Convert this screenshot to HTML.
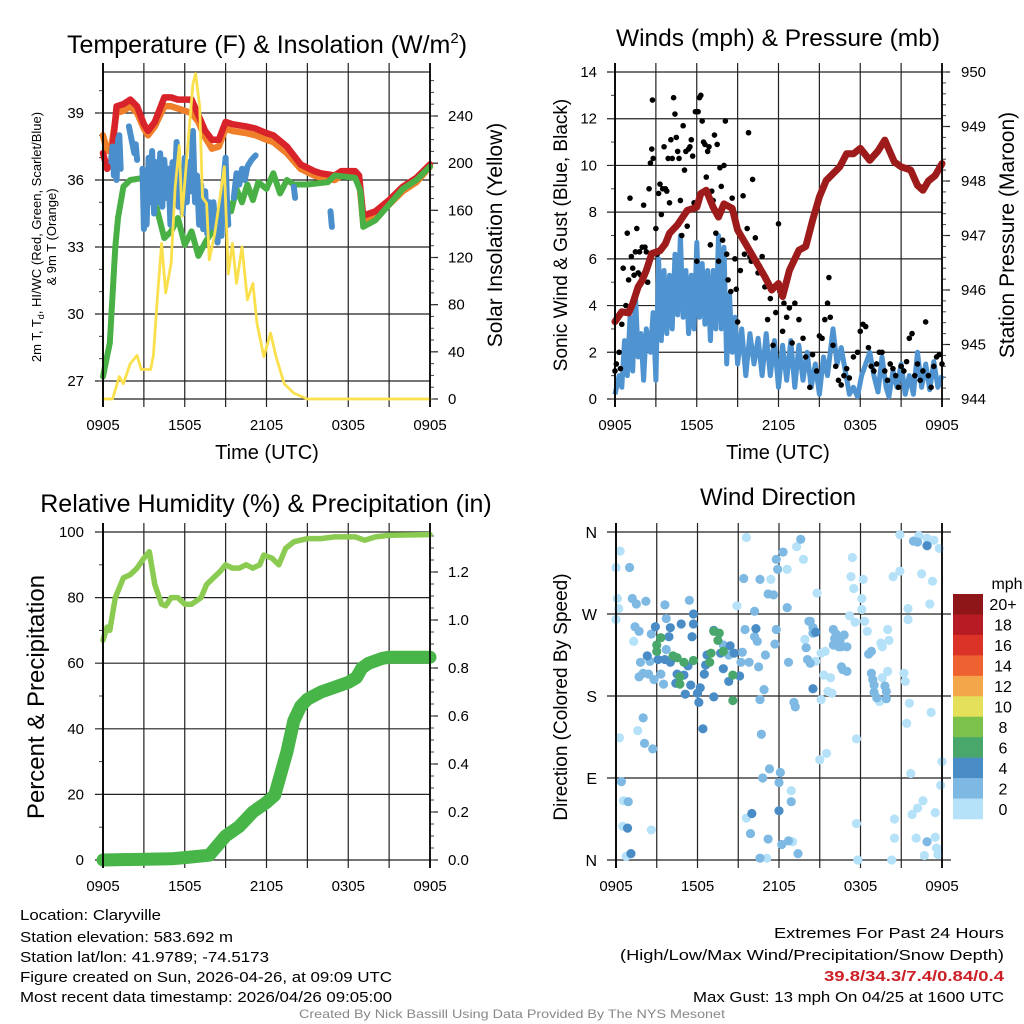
<!DOCTYPE html>
<html><head><meta charset="utf-8"><style>
html,body{margin:0;padding:0;background:#fff;}
svg{display:block;font-family:"Liberation Sans",Arial,sans-serif;}
</style></head><body>
<svg id="c" width="1024" height="1024" viewBox="0 0 1024 1024" xmlns="http://www.w3.org/2000/svg"></svg>
<script>
// ===== Panel 1: temperature (hours since 0905, value) =====
const redHours=[0,0.3,0.6,1,1.5,2,2.5,3,3.3,3.8,4.5,5,5.5,6,6.5,7,7.5,8,8.5,9,9.5,10.5,11.2,12,12.5,13.5,14.5,15.5,16,17,17.5,18.5,18.8,19.1,20,21,22,23,24];
const redTemp=[37.2,36.5,36.8,39.3,39.4,39.6,39.3,38.5,38.2,38.6,39.7,39.7,39.6,39.6,39.6,38.9,38.2,37.8,37.8,38.6,38.5,38.4,38.3,38.1,38.0,37.5,36.7,36.4,36.3,36.2,36.4,36.4,36.2,34.4,34.6,35.1,35.7,36.1,36.7];
const orangeHours=[0,0.3,0.6,1,1.5,2,2.5,3,3.3,3.8,4.5,5,5.5,6,6.5,7,7.5,8,8.5,9,9.5,10.5,11.2,12,12.5,13.5,14.5,15.5,16,17,17.5,18.5,18.8,19.1,20,21,22,23,24];
const orangeTemp=[38.0,37.3,37.5,39.0,39.1,39.3,39.0,38.3,38.0,38.4,39.3,39.3,39.2,39.1,39.0,38.6,37.9,37.4,37.5,38.3,38.2,38.1,38.0,37.8,37.7,37.2,36.5,36.2,36.1,36.0,36.2,36.2,36.0,34.1,34.4,34.9,35.5,35.9,36.6];
const greenHours=[0,0.5,0.9,1.1,1.5,2,3,3.2,4,4.5,5,5.5,6,6.5,7,7.5,8,8.5,9,9.4,9.8,10.2,10.6,11,11.4,12,12.5,13,13.5,14,15,16.5,17,18.5,18.9,19.1,20,21,22,23,24];
const greenTemp=[27.2,28.7,33.0,34.3,35.7,36.0,36.1,36.4,34.6,33.4,33.7,34.3,33.1,33.7,32.6,33.2,33.7,34.2,35.2,34.6,35.6,35.0,35.8,35.1,35.9,35.6,36.3,35.4,36.0,35.8,35.8,35.9,36.2,36.1,35.5,33.9,34.2,34.9,35.6,36.0,36.6];
const blueHours=[0.6,0.7,0.8,0.9,1.0,1.1,1.2,1.3,null,1.9,2.1,2.3,2.4,2.5,null,2.9,3.0,3.1,3.2,3.35,3.5,3.6,3.75,3.9,4.05,4.2,4.35,4.5,4.65,4.8,4.95,5.1,5.25,5.4,5.55,5.7,5.85,6.0,6.15,6.3,6.45,6.6,6.75,6.9,7.05,7.2,7.35,7.5,7.65,7.8,7.95,8.1,8.25,8.4,8.55,8.7,8.85,9.0,9.1,9.2,null,9.6,9.8,10.0,10.2,10.4,10.6,10.9,11.2,null,14.0,14.1,null,16.7,16.8];
const blueTemp=[36.8,37.5,36.2,37.3,36.0,37.8,38.0,36.5,null,38.4,37.8,37.2,37.6,36.9,null,36.5,33.8,35.5,34.0,37.0,35.0,37.3,34.5,36.8,35.0,37.2,34.8,36.9,35.2,36.5,34.0,36.8,35.5,37.7,34.8,36.5,34.5,37.0,35.0,36.8,35.5,38.2,35.0,36.2,34.0,35.8,33.8,35.5,33.6,35.0,33.9,35.0,34.0,33.2,34.2,33.5,36.0,37.0,35.0,34.0,null,35.2,36.3,35.8,36.5,36.0,36.6,36.9,37.1,null,35.7,35.2,null,34.6,33.9];
const solarHours=[0,0.7,1.2,1.5,2,2.5,2.8,3.5,3.7,4,4.3,4.6,5,5.3,5.6,5.8,6.3,6.6,6.8,7.1,7.3,7.6,7.8,8.2,8.7,8.9,9.2,9.5,9.8,10.2,10.6,11,11.3,11.8,12.3,12.7,13.3,14,15,24];
const solarWm2=[0,0,19,13,30,37,25,25,37,87,132,90,115,180,215,155,225,267,276,248,171,166,118,140,180,197,106,132,98,129,84,98,64,36,56,36,13,5,0,0];
const tempTicks=[27,30,33,36,39];
const solarTicks=[0,40,80,120,160,200,240];
const timeLabels=["0905","1505","2105","0305","0905"];
// ===== Panel 2: winds & pressure =====
const windHours=[0,0.3,0.5,0.7,0.9,1.1,1.3,1.5,1.7,1.9,2.1,2.3,2.6,2.8,3.0,3.2,3.4,3.6,3.8,4.0,4.2,4.4,4.6,4.8,5.0,5.2,5.4,5.6,5.8,6.0,6.2,6.4,6.6,6.8,7.0,7.2,7.4,7.6,7.8,8.0,8.2,8.4,8.6,8.8,9.0,9.3,9.6,9.9,10.2,10.5,10.8,11.1,11.4,11.7,12.0,12.3,12.6,12.9,13.2,13.5,13.8,14.1,14.4,14.7,15.0,15.3,15.6,16.0,16.3,16.6,16.9,17.2,17.5,17.8,18.1,18.4,18.7,19.0,19.3,19.6,19.9,20.1,20.4,20.7,21.0,21.3,21.6,21.9,22.2,22.5,22.8,23.1,23.4,23.7,24];
const windMph=[0.2,1.0,0.5,2.5,1.0,3.5,1.2,4.5,1.8,2.8,0.8,3.0,2.0,3.7,0.8,6.0,2.5,5.5,2.8,5.3,3.0,6.2,3.6,7.0,3.5,5.5,2.8,5.3,3.0,6.7,3.5,5.8,3.2,5.5,2.5,5.5,3.0,7.0,3.0,6.5,1.5,4.5,2.0,3.5,1.5,3.0,1.0,2.8,1.5,2.6,1.0,2.8,1.0,2.5,0.5,2.3,0.8,2.5,0.5,2.3,0.8,2.0,0.5,1.5,0.2,1.8,1.0,3.0,1.5,2.2,1.2,0.2,0.5,0.1,1.0,1.5,2.0,1.0,0.3,1.8,0.5,0.1,1.2,0.5,1.5,0.2,1.0,0.2,2.0,0.5,1.5,0.4,1.6,0.5,1.0];
const gustHours=[0,0.1,0.3,0.4,0.5,0.6,0.8,0.9,1.0,1.1,1.2,1.3,1.4,1.5,1.6,1.7,1.8,1.9,2.0,2.1,2.2,2.3,2.4,2.5,2.6,2.7,2.75,2.8,3.0,3.1,3.2,3.3,3.4,3.5,3.6,3.7,3.8,3.9,4.0,4.1,4.2,4.3,4.4,4.5,4.6,4.7,4.8,4.9,5.0,5.1,5.2,5.3,5.4,5.5,5.6,5.7,5.8,5.9,6.0,6.1,6.2,6.3,6.4,6.5,6.6,6.7,6.8,6.9,7.0,7.1,7.2,7.3,7.4,7.5,7.6,7.7,7.8,7.9,8.0,8.1,8.2,8.3,8.5,8.6,8.8,8.9,9.0,9.2,9.4,9.5,9.7,9.8,9.9,10.0,10.1,10.3,10.5,10.6,10.8,11.0,11.2,11.4,11.6,11.8,12.0,12.1,12.3,12.4,12.6,12.8,13.0,13.2,13.5,13.8,14.0,14.3,14.5,14.8,15.0,15.2,15.4,15.6,15.7,15.8,16.0,16.2,16.4,16.6,16.8,17.0,17.2,17.5,17.8,18.0,18.2,18.4,18.6,18.8,19.0,19.2,19.4,19.6,19.8,20.0,20.2,20.4,20.6,20.8,21.0,21.2,21.4,21.6,21.8,22.0,22.2,22.4,22.6,22.8,23.0,23.2,23.4,23.6,23.8,24.0];
const gustMph=[1.2,1.5,2.0,1.3,3.2,5.6,4.0,7.1,5.1,8.6,6.1,5.6,5.3,6.3,7.3,5.4,6.3,5.3,6.5,8.3,6.5,6.3,5.0,9.0,10.1,10.7,12.8,10.3,7.3,6.2,8.8,9.2,7.9,9.0,10.8,9.0,8.9,10.3,8.4,11.1,10.3,12.9,12.2,11.2,10.6,10.3,8.5,7.0,11.7,9.8,10.6,7.4,10.7,10.8,11.1,10.4,8.4,12.3,5.9,12.3,12.9,13.0,11.9,11.0,10.9,9.5,10.6,10.8,6.6,8.9,8.5,11.3,7.1,10.9,5.9,9.9,9.1,6.8,10.0,11.9,6.2,5.1,4.6,8.6,6.0,4.7,3.3,5.5,8.7,6.2,7.3,11.4,6.1,5.9,9.4,6.9,5.4,5.7,6.1,4.8,3.4,4.3,2.3,3.7,7.5,4.6,2.9,4.1,3.5,3.9,2.4,4.1,3.4,2.6,1.8,0.5,1.9,1.2,2.7,2.6,3.4,4.1,5.2,3.5,2.3,1.4,0.8,0.6,1.0,1.3,0.9,1.8,2.0,2.9,3.2,3.1,2.2,1.4,1.2,1.5,2.0,2.0,1.2,0.8,1.5,1.3,1.0,0.5,1.4,1.2,1.6,2.6,2.8,1.0,1.5,0.8,1.2,3.3,1.0,0.5,1.4,1.8,1.9,1.5];
const pressHours=[0,0.5,1,1.3,1.7,2,2.3,2.7,3.3,3.7,4,4.6,5.3,6,6.3,6.7,7.2,7.6,8,8.6,9,10,11,11.5,12,12.3,12.8,13.5,14,14.5,15,15.5,16.5,17,17.5,18,18.7,19.3,19.8,20.5,21,21.7,22.2,22.6,23,23.5,24];
const pressMb=[945.42,945.6,945.58,945.75,946.06,946.18,946.36,946.67,946.72,946.85,947.04,947.2,947.46,947.52,947.77,947.83,947.52,947.34,947.58,947.5,947.1,946.67,946.24,946.0,946.12,945.88,946.36,946.73,946.8,947.28,947.71,948.01,948.26,948.5,948.5,948.6,948.38,948.55,948.75,948.35,948.26,948.2,947.92,947.83,948.0,948.1,948.32];
const windTicks=[0,2,4,6,8,10,12,14];
const pressTicks=[944,945,946,947,948,949,950];
// ===== Panel 3: RH & precip =====
const rhHours=[0,0.3,0.5,0.9,1.5,2,2.5,3,3.4,3.8,4.3,4.6,5,5.5,6,6.5,7.2,7.6,8.1,8.6,9,9.5,10,10.5,11,11.5,11.8,12.4,12.9,13.4,14,15,16,17,18.5,19.2,20,21,24];
const rhPct=[67,71,70,80,86,87,89,92,94,84,78,77.5,80,80,78,78,80,84,86,88,90,89,89,90,89,90,93,92,90,95,97,98,98,98.5,98.5,97.5,98.5,99,99.2];
const precipHours=[0,5,6,7.8,9,10,11,12,12.6,13,13.5,14,14.5,15,16,17,18,18.6,19,19.5,20.5,21,24];
const precipIn=[0,0.005,0.01,0.02,0.1,0.14,0.2,0.24,0.27,0.35,0.45,0.58,0.64,0.67,0.7,0.72,0.74,0.76,0.8,0.82,0.84,0.845,0.845];
const rhTicks=[0,20,40,60,80,100];
const precipTicks=[0,0.2,0.4,0.6,0.8,1.0,1.2];
// ===== Panel 4: wind direction =====
const dirHours=[0.3,0,0.1,0.2,0,1.3,0.25,1.6,0.55,0.5,2.6,0.75,9.6,13.3,13.8,12.6,11.4,8.9,12.9,9.6,11.1,13,14.8,13.9,15.1,15.4,14.7,15.3,15.8,15.6,15.1,15.9,15,15.5,17.7,17.7,17.8,17.4,17.3,17.5,18.2,18.1,18.1,17.2,17.6,18.3,18.5,19.5,19.6,20.0,20.1,19.6,20.0,19.4,20.4,20.9,20.9,21.5,21.5,21.2,21.3,21.6,21.4,21.7,21.8,22.2,22.6,22.1,20.5,20.5,20.3,22.3,22.9,23.4,23.8,22.5,23.3,23.1,23.2,24,23.9,23.5,23.5,23.6,23.7,22.7,
1,1.2,1.5,2.2,1.4,1.7,2.6,1.8,2.5,2.0,1.7,2.4,2.8,3.5,3.3,3.7,3.6,5.4,2.0,2.1,2.7,0.4,0.9,3.7,7.9,8.3,9.3,9.2,9.8,9.4,10.6,10.2,9.5,10.2,10.4,11,10.5,10.9,10.6,10.7,11.3,10.8,12.3,11.8,11.9,11.6,11.2,11.8,11.7,12.6,12.7,13.1,13.2,12.1,12.0,12.9,9.9,11.2,12.7,12.2,13.4,10.6,13.6,14.2,14.3,14.5,14.5,14.0,14.1,14.3,16,16.1,16.2,16.8,16,16.4,16.6,17,16.5,16.6,16.7,17,18.8,18.6,18.8,18.9,19.0,19.0,19.2,19.8,19.9,19.9,21.9,22.2,22.9,22.9,
2.9,4.0,4.8,5.7,5.7,5.6,3.9,2.3,3.1,3.6,4.0,4.5,5.0,5.3,5.5,4.4,5.1,6.1,6.2,6.5,6.6,6.7,7.2,7.7,8.4,8.7,7.9,8.3,7.2,9.1,10.3,12.0,10,0.85,1.1,6.4,6,14.5,14.7,22.9,
3.3,3.0,3.0,4.2,4.5,5.0,4.7,4.7,5.7,6.9,7.0,7.2,7.5,7.6,7.9,8.6,8.6];
const dirDeg=[339,321,287,276,264,240,134,142,65,37,33,4,354,344,330,319,308,279,76,46,2,20,293,242,227,229,218,203,200,185,176,183,110,117,133,40,0,332,311,298,308,287,275,268,261,262,251,238,234,253,241,200,207,174,311,317,357,276,264,205,196,172,150,95,50,57,65,24,24,45,0,356,353,351,342,314,306,281,162,108,82,52,25,13,6,5,
321,287,281,284,256,251,248,217,218,205,201,204,198,193,204,265,280,285,156,128,122,86,64,231,236,225,228,217,217,309,308,273,253,245,240,225,212,187,176,138,100,90,338,330,319,291,292,253,237,277,217,173,168,96,85,64,29,23,21,17,7,2,352,262,262,255,249,233,220,216,253,243,248,247,236,234,234,234,240,212,209,207,229,226,205,198,192,184,178,191,185,177,350,349,345,20,
256,255,259,259,270,245,245,224,220,220,217,204,203,213,192,194,182,173,189,204,214,225,252,227,235,227,210,196,179,202,254,54,51,35,7,144,183,188,250,345,
244,236,229,224,222,217,201,193,219,217,227,251,241,249,229,203,175];
const dirSpeed=[1,1,1,1,1,1,1,1,1,1,1,1,1,1,1,1,1,1,1,1,1,1,1,1,1,1,1,1,1,1,1,1,1,1,1,1,1,1,1,1,1,1,1,1,1,1,1,1,1,1,1,1,1,1,1,1,1,1,1,1,1,1,1,1,1,1,1,1,1,1,1,1,1,1,1,1,1,1,1,1,1,1,1,1,1,1,
3,3,3,3,3,3,3,3,3,3,3,3,3,3,3,3,3,3,3,3,3,3,3,3,3,3,3,3,3,3,3,3,3,3,3,3,3,3,3,3,3,3,3,3,3,3,3,3,3,3,3,3,3,3,3,3,3,3,3,3,3,3,3,3,3,3,3,3,3,3,3,3,3,3,3,3,3,3,3,3,3,3,3,3,3,3,3,3,3,3,3,3,3,3,3,3,
5,5,5,5,5,5,5,5,5,5,5,5,5,5,5,5,5,5,5,5,5,5,5,5,5,5,5,5,5,5,5,5,5,5,5,5,5,5,5,5,
7,7,7,7,7,7,7,7,7,7,7,7,7,7,7,7,7];
const dirTickLabels=["N","E","S","W","N"];
const speedBinLabels=["0","2","4","6","8","10","12","14","16","18","20+"];
const speedBinColors=["#b5e2f8","#7eb9e3","#4a8dc6","#4aa76c","#7cc14b","#e5e059","#f4a64a","#ee6130","#dc3329","#b71c24","#8e1619"];

// ===== drawing =====
const svg=document.getElementById('c');
const NS='http://www.w3.org/2000/svg';
function el(tag,attrs,parent){const e=document.createElementNS(NS,tag);for(const k in attrs)e.setAttribute(k,attrs[k]);(parent||svg).appendChild(e);return e;}
function txt(s,x,y,size,anchor,parent,extra){const t=el('text',Object.assign({x:x,y:y,'font-size':size,'text-anchor':anchor||'middle',fill:'#000'},extra||{}),parent);t.textContent=s;return t;}
function lin(a,b,c,d){return v=>c+(v-a)/(b-a)*(d-c);}
function pathFrom(xs,ys,sx,sy){let d='',pen=false;for(let i=0;i<xs.length;i++){if(xs[i]===null||ys[i]===null){pen=false;continue;}d+=(pen?'L':'M')+sx(xs[i]).toFixed(1)+' '+sy(ys[i]).toFixed(1);pen=true;}return d;}
function frame(g,x0,y0,x1,y1){
  for(let h=0;h<=24;h+=3){const x=x0+h/24*(x1-x0);const l=el('line',{x1:x,y1:y0-9,x2:x,y2:y1+8,stroke:'#222','stroke-width':h%24===0?1.6:1.2},g);}
}
function xLabels(g,x0,x1,y){timeLabels.forEach((s,i)=>{const t=txt(s,x0+i/4*(x1-x0),y,15,'middle',g);});}
function leftAxis(g,x0,x1,sy,ticks,minorStep,lo,hi,fmt,labelX){
  ticks.forEach(v=>{const y=sy(v);el('line',{x1:x0-8,y1:y,x2:x1,y2:y,stroke:'#222','stroke-width':1.2},g);const t=txt(fmt(v),labelX,y+5,15,'end',g);});
  for(let v=lo;v<=hi+1e-9;v+=minorStep){el('line',{x1:x0-4,y1:sy(v),x2:x0,y2:sy(v),stroke:'#444','stroke-width':1},g);}
}
function rightAxis(g,x1,sy,ticks,minorStep,lo,hi,fmt,labelX){
  ticks.forEach(v=>{const y=sy(v);el('line',{x1:x1,y1:y,x2:x1+8,y2:y,stroke:'#222','stroke-width':1.2},g);const t=txt(fmt(v),labelX,y+5,15,'start',g);});
  for(let v=lo;v<=hi+1e-9;v+=minorStep){el('line',{x1:x1,y1:sy(v),x2:x1+4,y2:sy(v),stroke:'#444','stroke-width':1},g);}
}
function border(g,x0,y0,x1,y1){el('line',{x1:x0,y1:y0-9,x2:x0,y2:y1+8,stroke:'#000','stroke-width':1.8},g);el('line',{x1:x1,y1:y0-9,x2:x1,y2:y1+8,stroke:'#000','stroke-width':1.6},g);}
function vtitle(s,x,y,size,g,name){const t=txt(s,x,y,size,'middle',g,{transform:'rotate(-90 '+x+' '+y+')'});return t;}

// ---- Panel 1 ----
(function(){
const g=el('g',{});
const x0=103,x1=430,y0=72,y1=399;
const sx=lin(0,24,x0,x1), sy=lin(36,39,180,113), sr=lin(0,240,399,116);
frame(g,x0,y0,x1,y1);
leftAxis(g,x0,x1,sy,tempTicks,1,27,40,v=>String(v),84);
rightAxis(g,x1,sr,solarTicks,10,0,270,v=>String(v),448);
el('line',{x1:x0,y1:y0,x2:x1,y2:y0,stroke:'#222','stroke-width':1.2},g);
el('line',{x1:x0,y1:y1,x2:x1,y2:y1,stroke:'#222','stroke-width':1.2},g);
const series=[[orangeHours,orangeTemp,'#f07f2a',6.5,sy,'orange-9m-temp-line'],[redHours,redTemp,'#d8232a',6.5,sy,'red-2m-temp-line'],[greenHours,greenTemp,'#49b046',6,sy,'green-dewpoint-line'],[blueHours,blueTemp,'#4a8fcb',6,sy,'blue-windchill-line'],[solarHours,solarWm2,'#fbe04e',2.8,sr,'yellow-insolation-line']];
series.forEach(s=>{const p=el('path',{d:pathFrom(s[0],s[1],sx,s[4]),fill:'none',stroke:s[2],'stroke-width':s[3],'stroke-linejoin':'round','stroke-linecap':'round'},g);});
border(g,x0,y0,x1,y1);
xLabels(g,x0,x1,430);
let t=txt('Time (UTC)',267,459,20,'middle',g);
t=el('text',{x:267,y:53,'font-size':25,'text-anchor':'middle'},g);t.innerHTML='Temperature (F) &amp; Insolation (W/m<tspan dy="-10" font-size="15">2</tspan><tspan dy="10">)</tspan>';
t=el('text',{x:41,y:237,'font-size':13,'text-anchor':'middle',transform:'rotate(-90 41 237)'},g);t.innerHTML='2m T, T<tspan dy="3" font-size="9">d</tspan><tspan dy="-3">, HI/WC (Red, Green, Scarlet/Blue)</tspan>';
vtitle('& 9m T (Orange)',56,237,13,g,'y-axis-title-line2');
vtitle('Solar Insolation (Yellow)',502,235,21,g,'y2-axis-title');
})();

// ---- Panel 2 ----
(function(){
const g=el('g',{});
const x0=615,x1=942,y0=72,y1=399;
const sx=lin(0,24,x0,x1), sy=lin(0,14,y1,y0), sp=lin(944,950,y1,y0);
frame(g,x0,y0,x1,y1);
leftAxis(g,x0,x1,sy,windTicks,1,0,14,v=>String(v),597);
rightAxis(g,x1,sp,pressTicks,0.2,944,950,v=>String(v),961);
let p=el('path',{d:pathFrom(windHours,windMph,sx,sy),fill:'none',stroke:'#4f94d0','stroke-width':5,'stroke-linejoin':'round'},g);
gustHours.forEach((h,i)=>{const c=el('circle',{cx:sx(h),cy:sy(gustMph[i]),r:2.8,fill:'#000'},g);});
p=el('path',{d:pathFrom(pressHours,pressMb,sx,sp),fill:'none',stroke:'#9e1b1b','stroke-width':7,'stroke-linejoin':'round','stroke-linecap':'round'},g);
border(g,x0,y0,x1,y1);
xLabels(g,x0,x1,430);
let t=txt('Time (UTC)',778,459,20,'middle',g);
t=txt('Winds (mph) & Pressure (mb)',778,46,24.5,'middle',g);
vtitle('Sonic Wind & Gust (Blue, Black)',567,235,19,g,'y-axis-title');
vtitle('Station Pressure (Maroon)',1014,235,21,g,'y2-axis-title');
})();

// ---- Panel 3 ----
(function(){
const g=el('g',{});
const x0=103,x1=430,y0=532,y1=860;
const sx=lin(0,24,x0,x1), sy=lin(0,100,y1,y0), sr=lin(0,1.2,y1,572);
frame(g,x0,y0,x1,y1);
leftAxis(g,x0,x1,sy,rhTicks,10,0,100,v=>String(v),84);
rightAxis(g,x1,sr,precipTicks,0.05,0,1.35,v=>v.toFixed(1),448);
let p=el('path',{d:pathFrom(rhHours,rhPct,sx,sy),fill:'none',stroke:'#8ccb52','stroke-width':5.5,'stroke-linejoin':'round','stroke-linecap':'round'},g);
p=el('path',{d:pathFrom(precipHours,precipIn,sx,sr),fill:'none',stroke:'#47b548','stroke-width':13,'stroke-linejoin':'round','stroke-linecap':'round'},g);
border(g,x0,y0,x1,y1);
xLabels(g,x0,x1,891);
let t=txt('Relative Humidity (%) & Precipitation (in)',266,512,25,'middle',g);
vtitle('Percent & Precipitation',44,697,24,g,'y-axis-title');
})();

// ---- Panel 4 ----
(function(){
const g=el('g',{});
const x0=616,x1=942,y0=532,y1=860;
const sx=lin(0,24,x0,x1), sy=lin(0,360,y1,y0);
frame(g,x0,y0,x1,y1);
dirTickLabels.forEach((s,i)=>{const y=sy(i*90);el('line',{x1:x0-9,y1:y,x2:x1+9,y2:y,stroke:'#222','stroke-width':1.2},g);const t=txt(s,597,y+6,16,'end',g);});
dirHours.forEach((h,i)=>{const b=Math.min(10,Math.floor(dirSpeed[i]/2));const c=el('circle',{cx:sx(h),cy:sy(dirDeg[i]),r:4.6,fill:speedBinColors[b]},g);});
border(g,x0,y0,x1,y1);
xLabels(g,x0,x1,891);
let t=txt('Wind Direction',778,505,24,'middle',g);
vtitle('Direction (Colored By Speed)',567,697,19,g,'y-axis-title');
const cb=el('g',{},g);
const h=225/11;
for(let i=0;i<11;i++){const b=10-i;const r=el('rect',{x:953,y:594+i*h,width:30,height:h+0.3,fill:speedBinColors[b]},cb);
 const lt=txt(speedBinLabels[b],1003,594+i*h+h/2+6,16,'middle',cb);}
t=txt('mph',1007,589,16,'middle',cb);
})();

// ---- footer text ----
(function(){
const g=el('g',{});
const lines=[['Location: Claryville',920,141],['Station elevation: 583.692 m',942,213],['Station lat/lon: 41.9789; -74.5173',962,249],['Figure created on Sun, 2026-04-26, at 09:09 UTC',982,372],['Most recent data timestamp: 2026/04/26 09:05:00',1002,372]];
lines.forEach(l=>{const t=txt(l[0],20,l[1],15,'start',g,{textLength:l[2],lengthAdjust:'spacingAndGlyphs'});});
const g2=el('g',{});
let t=txt('Extremes For Past 24 Hours',1004,938,15,'end',g2,{textLength:230,lengthAdjust:'spacingAndGlyphs'});
t=txt('(High/Low/Max Wind/Precipitation/Snow Depth)',1004,960,15,'end',g2,{textLength:384,lengthAdjust:'spacingAndGlyphs'});
t=txt('39.8/34.3/7.4/0.84/0.4',1004,981,15,'end',g2,{fill:'#cc2027','font-weight':'bold',textLength:180,lengthAdjust:'spacingAndGlyphs'});
t=txt('Max Gust: 13 mph On 04/25 at 1600 UTC',1004,1002,15,'end',g2,{textLength:311,lengthAdjust:'spacingAndGlyphs'});
t=txt('Created By Nick Bassill Using Data Provided By The NYS Mesonet',512,1018,12,'middle',svg,{fill:'#888',textLength:426,lengthAdjust:'spacingAndGlyphs'});
})();
</script>
</body></html>
